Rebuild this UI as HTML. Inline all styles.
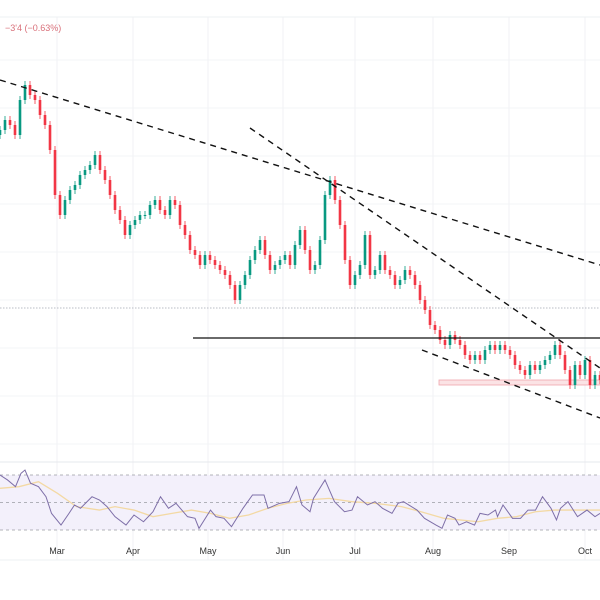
<!DOCTYPE html>
<html><head><meta charset="utf-8">
<style>
html,body{margin:0;padding:0;background:#fff;}
svg{display:block;font-family:"Liberation Sans",sans-serif;}
</style></head>
<body>
<svg id="chart" width="600" height="600" viewBox="0 0 600 600" xmlns="http://www.w3.org/2000/svg">
<rect x="0" y="0" width="600" height="600" fill="#ffffff"/>
<g id="grid"></g>
<line x1="0" y1="17" x2="600" y2="17" stroke="#eef0f3"/>
<line x1="0" y1="462" x2="600" y2="462" stroke="#e6e8ec"/>
<line x1="0" y1="560" x2="600" y2="560" stroke="#eef0f3"/>
<text x="5" y="31" font-size="9" fill="#d9707a">−3'4 (−0.63%)</text>
<g id="levels"></g>
<g id="candles"></g>
<g id="trend"></g>
<g id="rsi"></g>
<g id="months"></g>
</svg>
<script>
const closes=[370,380,375,365,400,415,405,400,385,375,350,305,285,300,310,315,325,330,335,345,330,320,305,290,280,265,275,280,285,285,295,300,290,285,300,295,275,265,250,245,235,245,240,235,230,225,215,200,215,225,240,250,260,245,230,235,240,245,235,255,270,250,230,235,260,305,320,300,275,240,215,225,235,265,225,230,245,230,225,215,220,230,225,215,200,190,175,170,160,155,165,160,155,145,140,145,140,150,155,150,155,150,145,135,130,125,135,130,135,140,145,155,145,130,115,135,125,140,115,125,120,105];
const firstOpen=365;
const monthLabels=["Mar","Apr","May","Jun","Jul","Aug","Sep","Oct"];
const monthDays=[11.4,26.6,41.6,56.6,71,86.6,101.8,117];
const rsiDays=[0,1.5,3.1,4.2,5,6.1,7.7,9.2,10.3,12.2,13.8,14.9,16.1,18.4,19.9,21.4,23,25.2,26.8,28.7,30.6,32.1,33.7,35.2,37.5,39,39.8,42.1,43.2,44.8,46.3,48.6,50.5,52.8,53.6,55.9,57.8,59.3,60.4,62,62.7,65,66.9,68.9,70.4,71.5,73.5,75,76.5,78.4,79.6,80.7,83.4,84.9,87.2,88.4,89.5,91,91.8,93.3,94.9,96,97.6,99.1,99.5,100.6,102.5,104.1,105.6,107.1,108.5,110.2,111.3,112.1,113.6,115.5,117.4,119,120];
const rsiVals=[70,66.4,61.5,71.2,73.6,64,61.5,54.2,42.1,33.6,42.1,48.2,45.8,54.2,51.8,47,39.7,33.6,40.9,36,43.3,54.2,45.8,49.4,39.7,38.5,31.2,44.5,39.7,38.5,32.4,45.8,55.5,55.5,45.8,49.4,50.6,61.5,48.2,43.3,53,66.4,50.6,43.3,44.5,54.2,48.2,50.6,45.8,42.1,49.4,50.6,44.5,38.5,33.6,31.2,40.9,38.5,33.6,36,33.6,42.1,40.9,44.5,39.7,48.2,38.5,38.5,44.5,44.5,54.2,45.8,37.3,45.8,50.6,39.7,44.5,39.7,42.1];
const maDays=[0,3.8,7.7,11.5,15.3,19.9,23,26.8,30.6,34.4,38.3,42.1,45.9,49.7,53.6,57.4,61.2,65.8,70.4,75,80.3,84.2,88.8,95.6,99.5,103.3,107.1,110.9,114.8,120];
const maVals=[60.3,61.5,65.1,56.7,47,44.5,47,44.5,39.7,42.1,44.5,42.1,38.5,40.9,45.8,49.4,51.8,53,50.6,49.4,47,43.3,38.5,36,38.5,39.7,43.3,44.5,44.5,44.5];
const trendA=[[0,420],[120,235]];
const trendB=[[50,372],[120,132]];
const trendC=[[84.4,150],[120,82]];
const hLevel=162, hLevelStart=38.6;
const dottedLevel=192;
const zoneLow=115, zoneHigh=120, zoneStart=87.8;

const NS="http://www.w3.org/2000/svg";
const x=d=>d*5;
const y=p=>500-p;
const ry=v=>530-(v-30)*55/40;
function mk(tag,attrs,parent){const e=document.createElementNS(NS,tag);for(const k in attrs)e.setAttribute(k,attrs[k]);parent.appendChild(e);return e;}
const G=id=>document.getElementById(id);

// grid
for(let i=0;i<monthDays.length;i++){
  const l=mk('line',{x1:x(monthDays[i]),y1:17,x2:x(monthDays[i]),y2:560,stroke:'#f0f2f5'},G('grid'));
  
  
  const t=mk('text',{x:x(monthDays[i]),y:554,'font-size':'9','text-anchor':'middle',fill:'#333'},G('months'));
  t.textContent=monthLabels[i];
  
  
}
for(let gy=60;gy<460;gy+=48){
  const l=mk('line',{x1:0,y1:gy,x2:600,y2:gy,stroke:'#f3f4f7'},G('grid'));
  
  
}
// levels
let e=mk('line',{x1:0,y1:y(dottedLevel),x2:600,y2:y(dottedLevel),stroke:'#b8bcc4','stroke-dasharray':'1.5,1.5'},G('levels'));


e=mk('rect',{x:x(zoneStart),y:y(zoneHigh),width:600-x(zoneStart),height:y(zoneLow)-y(zoneHigh),fill:'#fbe3e5',stroke:'#f0a6ad','stroke-width':'0.8'},G('levels'));


// candles
let prev=firstOpen;
for(let i=0;i<closes.length;i++){
  const o=prev,c=closes[i];prev=c;
  const up=c>=o,col=up?'#089981':'#f23645';
  const hi=Math.max(o,c)+4,lo=Math.min(o,c)-4;
  const g=mk('g',{},G('candles'));
  
  
  mk('line',{x1:x(i),y1:y(hi),x2:x(i),y2:y(lo),stroke:col,'stroke-width':'0.8'},g);
  const top=y(Math.max(o,c)),h=Math.max(1,Math.abs(o-c));
  mk('rect',{x:x(i)-1.3,y:top,width:2.6,height:h,fill:col},g);
}
// trendlines
[trendA,trendB,trendC].forEach((t,k)=>{
  const l=mk('line',{x1:x(t[0][0]),y1:y(t[0][1]),x2:x(t[1][0]),y2:y(t[1][1]),stroke:'#111','stroke-width':'1.4','stroke-dasharray':'6,5'},G('trend'));
  
  
});
e=mk('line',{x1:x(hLevelStart),y1:y(hLevel),x2:600,y2:y(hLevel),stroke:'#111','stroke-width':'1.3'},G('trend'));


// rsi
e=mk('rect',{x:0,y:ry(70),width:600,height:ry(30)-ry(70),fill:'#f3f0fb'},G('rsi'));


[70,50,30].forEach(v=>{
  const l=mk('line',{x1:0,y1:ry(v),x2:600,y2:ry(v),stroke:'#9a9ca4','stroke-dasharray':'3,3','stroke-width':'0.8'},G('rsi'));
  
  
});
e=mk('polyline',{points:maDays.map((d,i)=>x(d)+','+ry(maVals[i])).join(' '),fill:'none',stroke:'#f3d9a4','stroke-width':'1.3'},G('rsi'));


e=mk('polyline',{points:rsiDays.map((d,i)=>x(d)+','+ry(rsiVals[i])).join(' '),fill:'none',stroke:'#7e6fa8','stroke-width':'1'},G('rsi'));


</script>
</body></html>
